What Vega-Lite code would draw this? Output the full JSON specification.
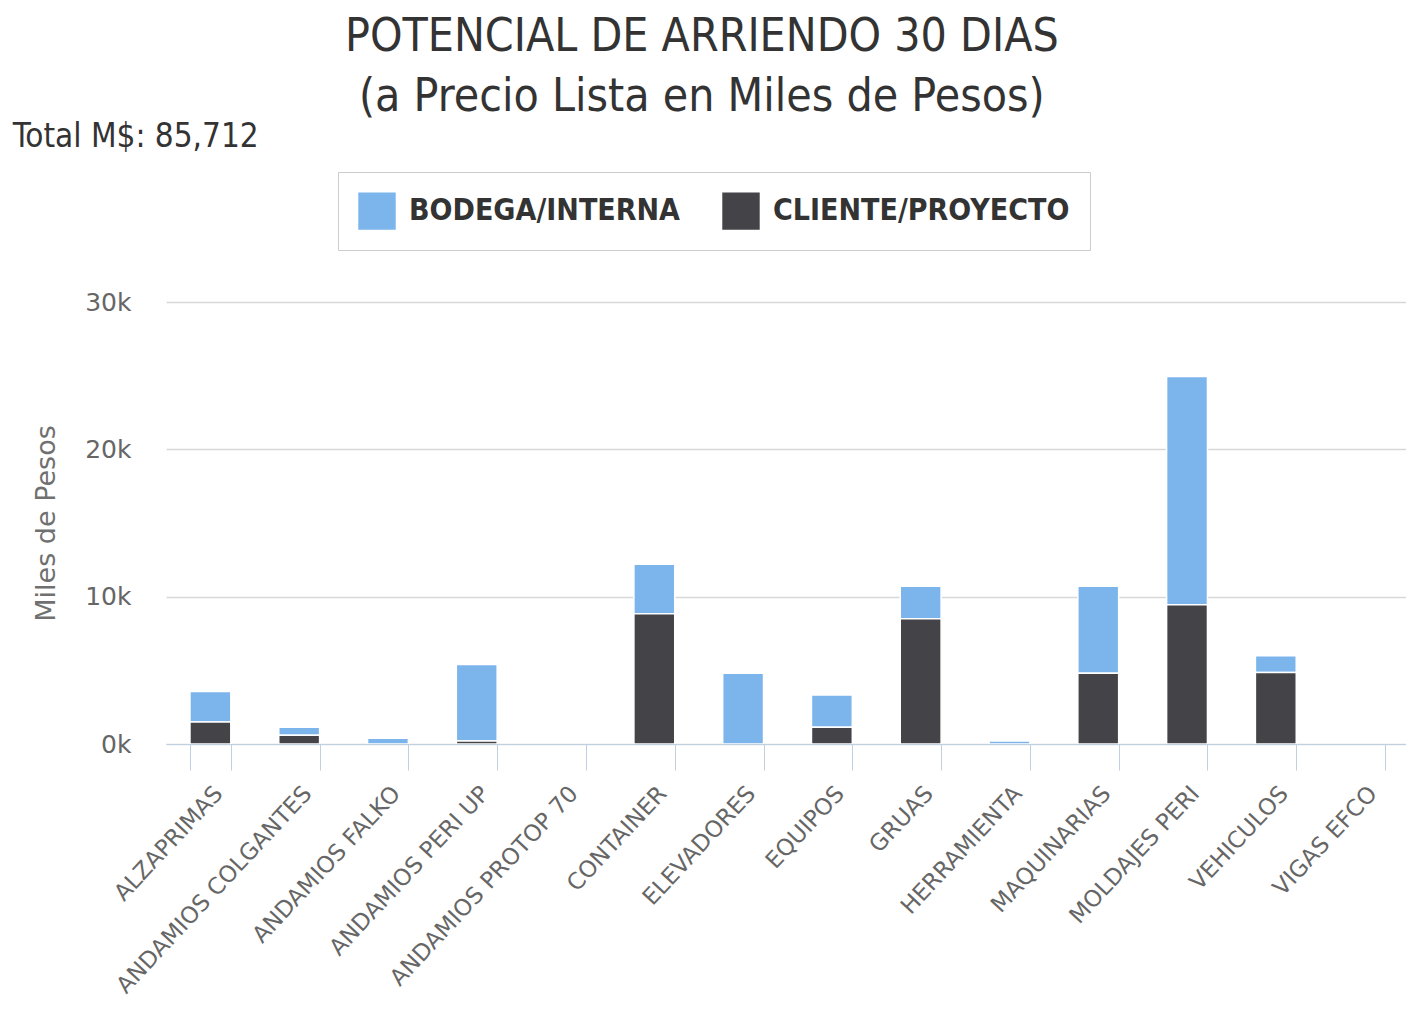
{
  "$schema": "https://vega.github.io/schema/vega-lite/v6.json",
  "background": "white",
  "padding": {"left": 12, "top": 14, "right": 0, "bottom": 0},
  "config": {"view": {"stroke": null}},
  "title": {
    "text": ["POTENCIAL DE ARRIENDO 30 DIAS", "(a Precio Lista en Miles de Pesos)"],
    "anchor": "middle",
    "dx": -9,
    "font": "DejaVu Sans Condensed",
    "fontSize": 46,
    "fontWeight": "normal",
    "color": "#333333",
    "lineHeight": 60,
    "offset": 0
  },
  "vconcat": [
    {
      "title": {
        "text": "Total M$: 85,712",
        "anchor": "start",
        "frame": "bounds",
        "dx": -20,
        "font": "DejaVu Sans Condensed",
        "fontSize": 33,
        "fontWeight": "normal",
        "color": "#333333",
        "offset": 136
      },
      "width": 1243,
      "height": 442,
      "data": {
        "values": [
          {"category": "ALZAPRIMAS", "series": "BODEGA/INTERNA", "value": 2060},
          {"category": "ALZAPRIMAS", "series": "CLIENTE/PROYECTO", "value": 1500},
          {"category": "ANDAMIOS COLGANTES", "series": "BODEGA/INTERNA", "value": 530},
          {"category": "ANDAMIOS COLGANTES", "series": "CLIENTE/PROYECTO", "value": 600},
          {"category": "ANDAMIOS FALKO", "series": "BODEGA/INTERNA", "value": 390},
          {"category": "ANDAMIOS FALKO", "series": "CLIENTE/PROYECTO", "value": 0},
          {"category": "ANDAMIOS PERI UP", "series": "BODEGA/INTERNA", "value": 5200},
          {"category": "ANDAMIOS PERI UP", "series": "CLIENTE/PROYECTO", "value": 200},
          {"category": "ANDAMIOS PROTOP 70", "series": "BODEGA/INTERNA", "value": 0},
          {"category": "ANDAMIOS PROTOP 70", "series": "CLIENTE/PROYECTO", "value": 0},
          {"category": "CONTAINER", "series": "BODEGA/INTERNA", "value": 3360},
          {"category": "CONTAINER", "series": "CLIENTE/PROYECTO", "value": 8840},
          {"category": "ELEVADORES", "series": "BODEGA/INTERNA", "value": 4800},
          {"category": "ELEVADORES", "series": "CLIENTE/PROYECTO", "value": 0},
          {"category": "EQUIPOS", "series": "BODEGA/INTERNA", "value": 2200},
          {"category": "EQUIPOS", "series": "CLIENTE/PROYECTO", "value": 1130},
          {"category": "GRUAS", "series": "BODEGA/INTERNA", "value": 2200},
          {"category": "GRUAS", "series": "CLIENTE/PROYECTO", "value": 8500},
          {"category": "HERRAMIENTA", "series": "BODEGA/INTERNA", "value": 200},
          {"category": "HERRAMIENTA", "series": "CLIENTE/PROYECTO", "value": 0},
          {"category": "MAQUINARIAS", "series": "BODEGA/INTERNA", "value": 5900},
          {"category": "MAQUINARIAS", "series": "CLIENTE/PROYECTO", "value": 4800},
          {"category": "MOLDAJES PERI", "series": "BODEGA/INTERNA", "value": 15500},
          {"category": "MOLDAJES PERI", "series": "CLIENTE/PROYECTO", "value": 9450},
          {"category": "VEHICULOS", "series": "BODEGA/INTERNA", "value": 1140},
          {"category": "VEHICULOS", "series": "CLIENTE/PROYECTO", "value": 4850},
          {"category": "VIGAS EFCO", "series": "BODEGA/INTERNA", "value": 0},
          {"category": "VIGAS EFCO", "series": "CLIENTE/PROYECTO", "value": 0}
        ]
      },
      "transform": [{"filter": "datum.value > 0"}],
      "mark": {"type": "bar", "stroke": "white", "strokeWidth": 1.5},
      "encoding": {
        "x": {
          "field": "category",
          "type": "nominal",
          "sort": null,
          "title": null,
          "scale": {
            "domain": ["ALZAPRIMAS", "ANDAMIOS COLGANTES", "ANDAMIOS FALKO", "ANDAMIOS PERI UP", "ANDAMIOS PROTOP 70", "CONTAINER", "ELEVADORES", "EQUIPOS", "GRUAS", "HERRAMIENTA", "MAQUINARIAS", "MOLDAJES PERI", "VEHICULOS", "VIGAS EFCO"],
            "paddingInner": 0.54,
            "paddingOuter": 0.27
          },
          "axis": {
            "zindex": 1,
            "labelAngle": -47,
            "labelAlign": "right",
            "labelBaseline": "top",
            "labelFont": "DejaVu Sans",
            "labelFontSize": 23,
            "labelColor": "#666666",
            "labelLimit": 0,
            "labelPadding": 12,
            "tickBand": "extent",
            "tickSize": 26,
            "tickColor": "#C0D0E0",
            "domainColor": "#C0D0E0",
            "grid": false
          }
        },
        "y": {
          "field": "value",
          "type": "quantitative",
          "stack": "zero",
          "title": "Miles de Pesos",
          "scale": {"domain": [0, 30000]},
          "axis": {
            "values": [0, 10000, 20000, 30000],
            "labelExpr": "datum.value / 1000 + 'k'",
            "labelFont": "DejaVu Sans",
            "labelFontSize": 25,
            "labelColor": "#666666",
            "labelPadding": 35,
            "ticks": false,
            "domain": false,
            "gridColor": "#D8D8D8",
            "gridWidth": 1.5,
            "titleFont": "DejaVu Sans",
            "titleFontSize": 27,
            "titleFontWeight": "normal",
            "titleColor": "#707070",
            "titlePadding": 24
          }
        },
        "color": {
          "field": "series",
          "type": "nominal",
          "scale": {"domain": ["BODEGA/INTERNA", "CLIENTE/PROYECTO"], "range": ["#7CB5EC", "#434348"]},
          "legend": {
            "title": null,
            "orient": "none",
            "legendX": 172,
            "legendY": -130,
            "direction": "horizontal",
            "symbolType": "square",
            "symbolSize": 1400,
            "symbolStrokeWidth": 0,
            "labelFont": "DejaVu Sans Condensed",
            "labelFontSize": 30,
            "labelFontWeight": "bold",
            "labelColor": "#333333",
            "labelLimit": 0,
            "columnPadding": 42,
            "labelOffset": 13,
            "padding": 20,
            "strokeColor": "#CCCCCC",
            "fillColor": "white"
          }
        },
        "order": {"field": "series", "sort": "descending"}
      }
    }
  ]
}
